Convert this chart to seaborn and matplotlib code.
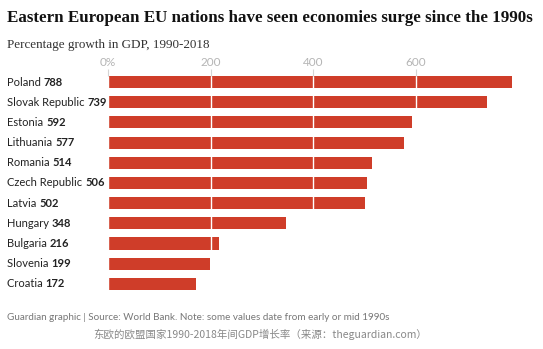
import matplotlib
matplotlib.use("Agg")
import matplotlib.pyplot as plt
import matplotlib.transforms as mtransforms
import seaborn as sns
import pandas as pd

countries = ["Poland", "Slovak Republic", "Estonia", "Lithuania", "Romania",
             "Czech Republic", "Latvia", "Hungary", "Bulgaria", "Slovenia", "Croatia"]
growth = [788, 739, 592, 577, 514, 506, 502, 348, 216, 199, 172]
xticks = [0, 200, 400, 600]
xticklabels = ["0%", "200", "400", "600"]

title = "Eastern European EU nations have seen economies surge since the 1990s"
subtitle = "Percentage growth in GDP, 1990-2018"
footer = "Guardian graphic | Source: World Bank. Note: some values date from early or mid 1990s"
caption = "东欧的欧盟国家1990-2018年间GDP增长率（来源：theguardian.com）"

df = pd.DataFrame({"country": countries, "growth": growth})

sns.set_theme(style="white")
plt.rcParams["font.family"] = ["Lato", "DejaVu Sans"]

W, H = 543, 349
fig = plt.figure(figsize=(W / 100, H / 100), dpi=100)
ax = fig.add_axes([108 / W, 1 - 294 / H, (531 - 108) / W, (294 - 76) / H])

bar_color = "#cf3d29"
sns.barplot(data=df, x="growth", y="country", color=bar_color, width=0.6,
            saturation=1, ax=ax, zorder=1, edgecolor="none", linewidth=0)
ax.set_xlim(0, 825)
ax.set_ylim(10.5, -0.3)
for s in ax.spines.values():
    s.set_visible(False)
ax.set_xlabel("")
ax.set_ylabel("")
ax.set_yticks([])
ax.set_xticks(xticks)
ax.set_xticklabels(xticklabels)
ax.xaxis.tick_top()
ax.tick_params(axis="x", top=True, bottom=False, length=5, width=0.8,
               color="#d4d4d4", labelcolor="#b5b5b5", labelsize=8.5, pad=0.5)
ax.grid(axis="x", color="white", lw=1)
ax.set_axisbelow(False)

fig.canvas.draw()
renderer = fig.canvas.get_renderer()


def fit_width(t, target_px):
    for _ in range(4):
        bb = t.get_window_extent(renderer=renderer)
        t.set_fontsize(t.get_fontsize() * target_px / bb.width)


# Country labels with bold values
trans = mtransforms.blended_transform_factory(fig.transFigure, ax.transData)
for i, (c, v) in enumerate(zip(countries, growth)):
    t = ax.text(7 / W, i, c + " ", transform=trans, ha="left", va="center",
                fontsize=8.0, color="#222222")
    bb = t.get_window_extent(renderer=renderer)
    ax.text(bb.x1 / W, i, str(v), transform=trans, ha="left", va="center",
            fontsize=8.0, fontweight="bold", color="#222222")

t1 = fig.text(7 / W, 1 - 18 / H, title, ha="left", va="center", fontsize=11,
              fontweight="bold", family=["Liberation Serif"], color="#121212")
fit_width(t1, 524)
t2 = fig.text(7 / W, 1 - 45 / H, subtitle, ha="left", va="center", fontsize=9,
              family=["Liberation Serif"], color="#333333")
fit_width(t2, 204)
t3 = fig.text(7 / W, 1 - 317 / H, footer, ha="left", va="center", fontsize=7.3,
              color="#777777")
fit_width(t3, 382)
t4 = fig.text(260 / W, 1 - 334 / H, caption, ha="center", va="center", fontsize=7,
              family=["Noto Sans CJK SC", "DejaVu Sans"], color="#888888")
fit_width(t4, 334)

fig.savefig("out.png", dpi=100)
